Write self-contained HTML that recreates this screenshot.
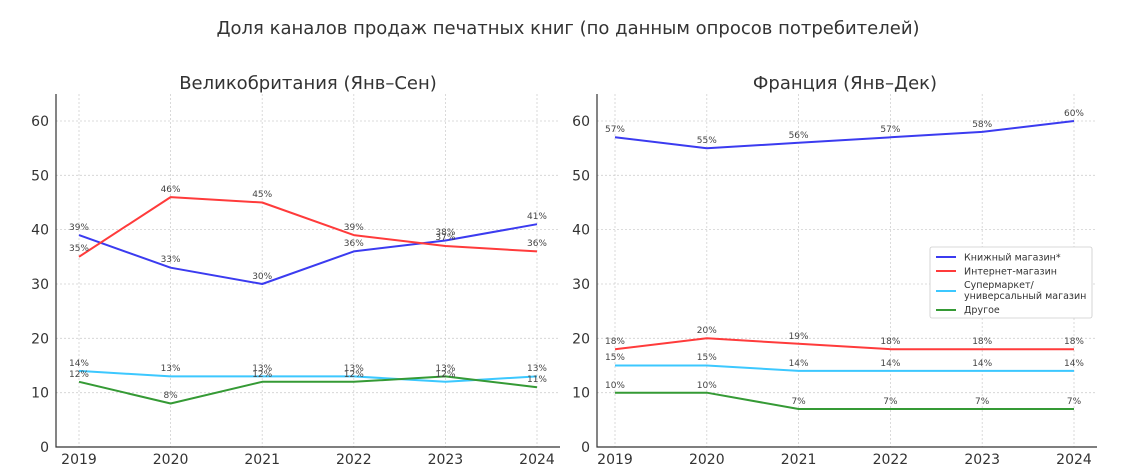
<!DOCTYPE html>
<html><head><meta charset="utf-8"><style>
body{margin:0;background:#fff;}
svg{font-family:"DejaVu Sans","Liberation Sans",sans-serif;}
.g{stroke:#d0d0d0;stroke-width:0.8;stroke-dasharray:2,2;fill:none}
.t{font-size:14px;fill:#333}
.l{font-size:9px;fill:#444;text-anchor:middle}
.s{fill:none;stroke-width:2;stroke-linejoin:round}
</style></head><body>
<svg width="1137" height="470" viewBox="0 0 1137 470">
<text x="568" y="34" font-size="18" fill="#333" text-anchor="middle">Доля каналов продаж печатных книг (по данным опросов потребителей)</text>
<text x="308" y="89" font-size="18" fill="#333" text-anchor="middle">Великобритания (Янв–Сен)</text>
<text x="845" y="89" font-size="18" fill="#333" text-anchor="middle">Франция (Янв–Дек)</text>

<!-- LEFT grid -->
<g class="g">
<path d="M56 392.7H560M56 338.3H560M56 284H560M56 229.6H560M56 175.3H560M56 121H560"/>
<path d="M79 94V447M170.6 94V447M262.2 94V447M353.8 94V447M445.4 94V447M537 94V447"/>
</g>
<path d="M56 94V447H560" stroke="#333" stroke-width="1.2" fill="none"/>
<g class="t" text-anchor="end">
<text x="49" y="452">0</text><text x="49" y="397.7">10</text><text x="49" y="343.3">20</text><text x="49" y="289">30</text><text x="49" y="234.6">40</text><text x="49" y="180.3">50</text><text x="49" y="126">60</text>
</g>
<g class="t" text-anchor="middle">
<text x="79" y="464">2019</text><text x="170.6" y="464">2020</text><text x="262.2" y="464">2021</text><text x="353.8" y="464">2022</text><text x="445.4" y="464">2023</text><text x="537" y="464">2024</text>
</g>
<polyline class="s" stroke="#3b3bf0" points="79,235.1 170.6,267.7 262.2,284 353.8,251.4 445.4,240.5 537,224.2"/>
<polyline class="s" stroke="#ff3b3b" points="79,256.8 170.6,197.1 262.2,202.5 353.8,235.1 445.4,246 537,251.4"/>
<polyline class="s" stroke="#3cc8ff" points="79,370.9 170.6,376.4 262.2,376.4 353.8,376.4 445.4,381.8 537,376.4"/>
<polyline class="s" stroke="#359a35" points="79,381.8 170.6,403.5 262.2,381.8 353.8,381.8 445.4,376.4 537,387.2"/>
<g class="l">
<text x="79" y="230">39%</text><text x="170.6" y="262">33%</text><text x="262.2" y="279">30%</text><text x="353.8" y="246">36%</text><text x="445.4" y="240">37%</text><text x="537" y="219">41%</text>
<text x="79" y="251">35%</text><text x="170.6" y="192">46%</text><text x="262.2" y="197">45%</text><text x="353.8" y="230">39%</text><text x="445.4" y="235">38%</text><text x="537" y="246">36%</text>
<text x="79" y="366">14%</text><text x="170.6" y="371">13%</text><text x="262.2" y="371">13%</text><text x="353.8" y="371">13%</text><text x="445.4" y="371">13%</text><text x="537" y="371">13%</text>
<text x="79" y="377">12%</text><text x="170.6" y="398">8%</text><text x="262.2" y="377">12%</text><text x="353.8" y="377">12%</text><text x="445.4" y="377">12%</text><text x="537" y="382">11%</text>
</g>

<!-- RIGHT grid -->
<g class="g">
<path d="M597 392.7H1097M597 338.3H1097M597 284H1097M597 229.6H1097M597 175.3H1097M597 121H1097"/>
<path d="M615 94V447M706.8 94V447M798.6 94V447M890.4 94V447M982.2 94V447M1074 94V447"/>
</g>
<path d="M597 94V447H1097" stroke="#333" stroke-width="1.2" fill="none"/>
<g class="t" text-anchor="end">
<text x="590" y="452">0</text><text x="590" y="397.7">10</text><text x="590" y="343.3">20</text><text x="590" y="289">30</text><text x="590" y="234.6">40</text><text x="590" y="180.3">50</text><text x="590" y="126">60</text>
</g>
<g class="t" text-anchor="middle">
<text x="615" y="464">2019</text><text x="706.8" y="464">2020</text><text x="798.6" y="464">2021</text><text x="890.4" y="464">2022</text><text x="982.2" y="464">2023</text><text x="1074" y="464">2024</text>
</g>
<polyline class="s" stroke="#3b3bf0" points="615,137.3 706.8,148.2 798.6,142.8 890.4,137.3 982.2,131.9 1074,121"/>
<polyline class="s" stroke="#ff3b3b" points="615,349.2 706.8,338.3 798.6,343.8 890.4,349.2 982.2,349.2 1074,349.2"/>
<polyline class="s" stroke="#3cc8ff" points="615,365.5 706.8,365.5 798.6,370.9 890.4,370.9 982.2,370.9 1074,370.9"/>
<polyline class="s" stroke="#359a35" points="615,392.7 706.8,392.7 798.6,409 890.4,409 982.2,409 1074,409"/>
<g class="l">
<text x="615" y="132">57%</text><text x="706.8" y="143">55%</text><text x="798.6" y="138">56%</text><text x="890.4" y="132">57%</text><text x="982.2" y="127">58%</text><text x="1074" y="116">60%</text>
<text x="615" y="344">18%</text><text x="706.8" y="333">20%</text><text x="798.6" y="339">19%</text><text x="890.4" y="344">18%</text><text x="982.2" y="344">18%</text><text x="1074" y="344">18%</text>
<text x="615" y="360">15%</text><text x="706.8" y="360">15%</text><text x="798.6" y="366">14%</text><text x="890.4" y="366">14%</text><text x="982.2" y="366">14%</text><text x="1074" y="366">14%</text>
<text x="615" y="388">10%</text><text x="706.8" y="388">10%</text><text x="798.6" y="404">7%</text><text x="890.4" y="404">7%</text><text x="982.2" y="404">7%</text><text x="1074" y="404">7%</text>
</g>

<!-- legend -->
<rect x="930" y="247" width="162" height="71" rx="2" fill="#fff" stroke="#ccc" stroke-width="0.8"/>
<g stroke-width="2">
<line x1="936" y1="257" x2="956" y2="257" stroke="#3b3bf0"/>
<line x1="936" y1="271" x2="956" y2="271" stroke="#ff3b3b"/>
<line x1="936" y1="291" x2="956" y2="291" stroke="#3cc8ff"/>
<line x1="936" y1="310" x2="956" y2="310" stroke="#359a35"/>
</g>
<g font-size="9.5" fill="#333">
<text x="964" y="260.5">Книжный магазин*</text>
<text x="964" y="274.5">Интернет-магазин</text>
<text x="964" y="288">Супермаркет/</text>
<text x="964" y="299">универсальный магазин</text>
<text x="964" y="313">Другое</text>
</g>
</svg>
</body></html>
